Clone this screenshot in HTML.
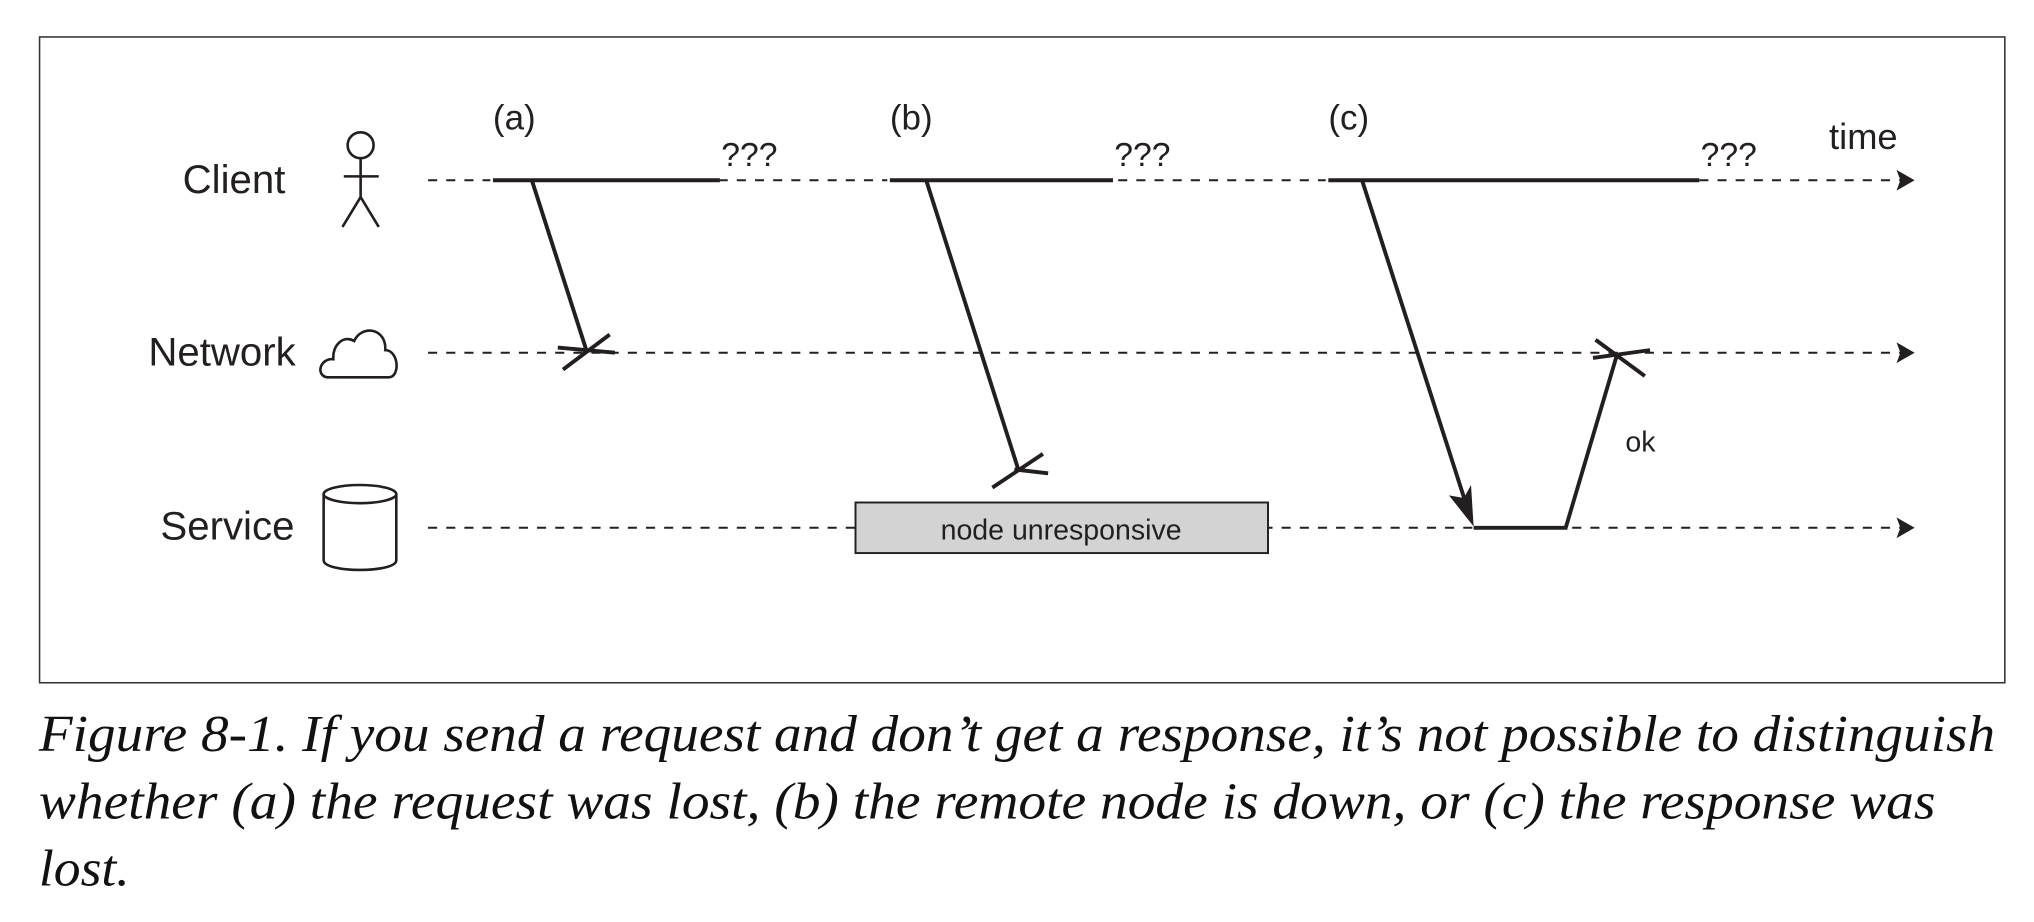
<!DOCTYPE html>
<html><head><meta charset="utf-8"><style>
html,body{margin:0;padding:0;background:#fff;width:2034px;height:922px;overflow:hidden}
svg{display:block}
.lbl{font-family:"Liberation Sans",sans-serif;fill:#231f20}
.cap{font-family:"Liberation Serif",serif;font-style:italic;fill:#111}
</style></head><body>
<svg width="2034" height="922" viewBox="0 0 1568 711" preserveAspectRatio="none">
<rect x="30.5" y="28.5" width="1515" height="498" fill="#fff" stroke="#333" stroke-width="1.2"/>
<g id="lanes"></g>
<g stroke="#231f20" fill="none" stroke-width="2">
 <circle cx="278" cy="112" r="10"/>
 <path d="M278 122V152M265 136H292M278 152L264 175M278 152L292 175"/>
 <path d="M252 291 C243 289 247 276 257 277 C256 266 265 258 273 263 C279 250 298 253 297 270 C307 270 309 290 300 291 Z"/>
 <g>
  <ellipse cx="277.5" cy="381" rx="28" ry="7"/>
  <path d="M249.5 381V432 C249.5 442 305.5 442 305.5 432V381"/>
 </g>
</g>
<text class="lbl" x="220" y="149" font-size="31" text-anchor="end">Client</text>
<text class="lbl" x="228" y="282" font-size="31" text-anchor="end">Network</text>
<text class="lbl" x="227" y="416" font-size="31" text-anchor="end">Service</text>
<text class="lbl" x="1410" y="115" font-size="28">time</text>
<rect x="659.5" y="387.5" width="318" height="39" fill="#d3d3d3" stroke="#231f20" stroke-width="1.5"/>
<text class="lbl" x="818" y="416" font-size="22" text-anchor="middle">node unresponsive</text>
<g id="marks" stroke="#231f20" stroke-width="3" fill="none"></g>
<text class="lbl" x="1253" y="348" font-size="22">ok</text>
<text class="cap" x="30" y="579" font-size="40" textLength="1508" lengthAdjust="spacingAndGlyphs">Figure 8-1. If you send a request and don’t get a response, it’s not possible to distinguish</text>
<text class="cap" x="30" y="631" font-size="40" textLength="1462" lengthAdjust="spacingAndGlyphs">whether (a) the request was lost, (b) the remote node is down, or (c) the response was</text>
<text class="cap" x="30" y="683" font-size="40" textLength="70" lengthAdjust="spacingAndGlyphs">lost.</text>
</svg>
<script>
const laneNames=["client","network","service"];
const laneY=[139,272,407];
const scenarioLabels=["(a)","(b)","(c)"];
const scenarioStart=[380,686,1024];
const waitEnd=[555,858,1310];
const NS="http://www.w3.org/2000/svg";
const lanes=document.getElementById('lanes');
const marks=document.getElementById('marks');
function mk(tag,attrs,parent){const e=document.createElementNS(NS,tag);for(const k in attrs)e.setAttribute(k,attrs[k]);parent.appendChild(e);return e;}
laneNames.forEach((n,i)=>{
 const l=mk('line',{x1:330,y1:laneY[i],x2:1466,y2:laneY[i],stroke:'#231f20','stroke-width':1.5,'stroke-dasharray':'7 7'},lanes);
 
 
 const a=mk('path',{d:`M1462 ${laneY[i]-8}L1476 ${laneY[i]}L1462 ${laneY[i]+8}L1465 ${laneY[i]}Z`,fill:'#231f20'},lanes);
 
 
});
scenarioLabels.forEach((s,i)=>{
 const w=mk('rect',{x:scenarioStart[i]-2,y:laneY[0]-3,width:waitEnd[i]-scenarioStart[i]+2,height:6,fill:'#fff'},lanes);
 
 
 const t=mk('text',{x:scenarioStart[i],y:100,'font-size':27,class:'lbl'},lanes);
 t.textContent=s;
 
 
 const q=mk('text',{x:waitEnd[i]+1,y:128,'font-size':26,class:'lbl'},lanes);
 q.textContent='???';
 
 
 const L=mk('line',{x1:scenarioStart[i],y1:laneY[0],x2:waitEnd[i],y2:laneY[0],stroke:'#231f20','stroke-width':3},marks);
 
 
});
function seg(d,name){const p=mk('path',{d:d},marks);return p;}
seg('M410 139L452 270','request-a');
seg('M430 268L474 272M434 285L470 258','request-a-lost');
seg('M714 139L785 362','request-b');
seg('M765 376L804 350M782 362L808 365','request-b-lost');
seg('M1050 139L1129 385','request-c');
const h=mk('path',{d:'M1136 406L1117 382L1128.5 384L1134 374Z',fill:'#231f20',stroke:'none'},marks);


seg('M1136 407L1207 407L1247 272','response-c');
seg('M1230 262L1268 290M1228 276L1272 270','response-c-lost');
</script>
</body></html>
